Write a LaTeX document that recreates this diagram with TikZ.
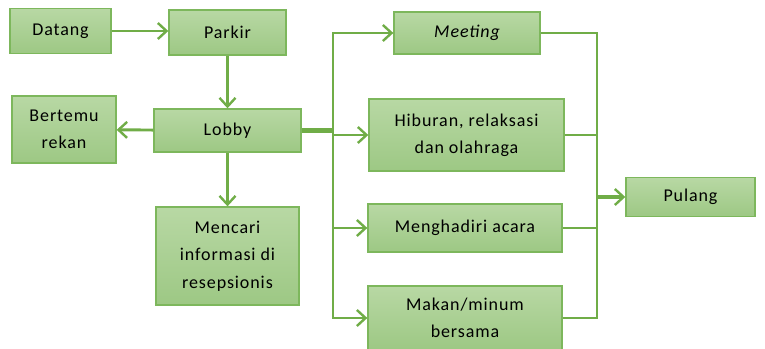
\documentclass[tikz,border=0pt]{standalone}
\usepackage{fontspec}
\setmainfont[LetterSpace=5]{Carlito}
\usepackage{xcolor}
\definecolor{boxtop}{HTML}{B8D8A4}
\definecolor{boxbot}{HTML}{9DC884}
\definecolor{boxline}{HTML}{7DB75C}
\definecolor{flow}{HTML}{70AD47}
\usetikzlibrary{arrows.meta,positioning}

\begin{document}
\begin{tikzpicture}[x=0.75pt,y=-0.75pt,>={Straight Barb[length=6.5pt,width=12pt,line width=1.8pt]}]
\tikzset{
 actbox/.style={draw=boxline,line width=1pt,top color=boxtop,bottom color=boxbot,inner sep=0pt,align=center,font=\fontsize{13.5}{20.5}\selectfont},
 arrow/.style={->,draw=flow,line width=2.2pt},
 line/.style={draw=flow,line width=2.2pt}
}
\useasboundingbox (0,0) rectangle (765,349);
\node[actbox,minimum width=75.8pt,minimum height=33.8pt] (datang) at (60.5,31) {Datang};
\node[actbox,minimum width=87.8pt,minimum height=33.8pt] (parkir) at (227.5,32.5) {Parkir};
\node[actbox,minimum width=78pt,minimum height=50.3pt] (bertemu) at (64,129.5) {Bertemu\\rekan};
\node[actbox,minimum width=110.3pt,minimum height=32.3pt] (lobby) at (227.5,130.5) {Lobby};
\node[actbox,minimum width=107.3pt,minimum height=73.5pt] (mencari) at (227.5,256) {Mencari\\informasi di\\resepsionis};
\node[actbox,minimum width=109.5pt,minimum height=31.5pt] (meeting) at (467,33) {\itshape Meeting};
\node[actbox,minimum width=146.3pt,minimum height=54pt] (hiburan) at (466.5,135) {Hiburan, relaksasi\\dan olahraga};
\node[actbox,minimum width=145.5pt,minimum height=36pt] (acara) at (465,228) {Menghadiri acara};
\node[actbox,minimum width=145.5pt,minimum height=48pt] (makan) at (465,318) {Makan/minum\\bersama};
\node[actbox,minimum width=96.8pt,minimum height=29.3pt] (pulang) at (690.5,197) {Pulang};
\coordinate (split) at (333,130.5);
\coordinate (join) at (597,197);
\draw[arrow] (datang) -- (datang -| parkir.west);
\draw[arrow] (parkir) -- (lobby);
\draw[arrow] (lobby) -- (bertemu);
\draw[arrow] (lobby) -- (mencari);
\draw[line,line width=3.2pt] (lobby.east) -- (split);
\draw[arrow] (split) |- (meeting.west);
\draw[arrow] (split) |- (hiburan.west);
\draw[arrow] (split) |- (acara.west);
\draw[arrow] (split) |- (makan.west);
\draw[line] (meeting.east) -| (join);
\draw[line] (hiburan.east) -| (join);
\draw[line] (acara.east) -| (join);
\draw[line] (makan.east) -| (join);
\draw[arrow,line width=3pt] (join) -- (pulang.west);
\end{tikzpicture}
\end{document}
